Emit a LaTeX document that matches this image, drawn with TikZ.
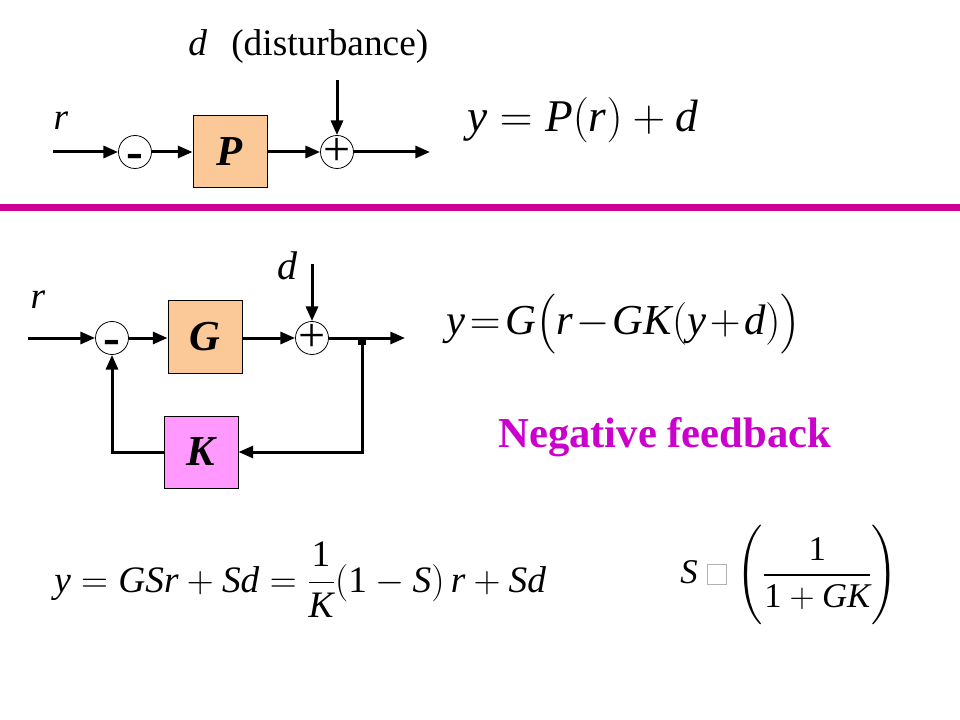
\RequirePackage{fix-cm}
\documentclass[tikz,border=0pt]{standalone}
\usepackage{amsmath}
\usepackage{fontspec}
\setmainfont{Liberation Serif}
\usepackage{tikz}
\usetikzlibrary{arrows.meta}
\definecolor{PEACH}{HTML}{FBC997}
\definecolor{VIOLET}{HTML}{FF99FF}
\definecolor{MAGENTA}{HTML}{CC0099}
\definecolor{PURPLE}{HTML}{CC00CC}
\definecolor{BLACK}{HTML}{000000}
\newcommand{\fs}[1]{\fontsize{#1}{#1}\selectfont}
\newcommand{\iv}[1]{\textit{#1}}

\begin{document}
\begin{tikzpicture}[x=0.75pt, y=-0.75pt,
    block/.style={draw=BLACK, line width=0.75pt, minimum width=55.5pt, minimum height=54pt, inner sep=0pt, font=\fs{32}\bfseries\itshape},
    sumpt/.style={circle, draw=BLACK, line width=0.6pt, minimum size=24.75pt, inner sep=0pt},
    plus/.style={inner sep=0pt, font=\fs{36}},
    minus/.style={inner sep=0pt, font=\fs{38}\bfseries},
    junc/.style={fill=BLACK, minimum size=6pt, inner sep=0pt},
    sig/.style={BLACK, line width=2.25pt, -{Triangle[length=11pt, width=9pt]}},
    lbl/.style={inner sep=0pt, font=\fs{28}},
    tight/.style={execute at begin node={\thickmuskip=2mu\medmuskip=1.5mu}}]
    \fill[white] (0,0) rectangle (960,720);
    \useasboundingbox (0,0) rectangle (960,720);

    % open loop
    \node[sumpt] (s1) at (135,152) {};
    \node[minus] (m1) at (135,161) {-};
    \node[block, fill=PEACH] (P) at (230,152) {P};
    \node[sumpt] (a1) at (337,152) {};
    \node[plus] (p1) at (a1) {+};
    \coordinate (r1) at (53,152);
    \coordinate (y1) at (430,152);
    \coordinate (d1) at (337,80);
    \draw[sig] (r1) -- (s1);
    \draw[sig] (s1) -- (P);
    \draw[sig] (P) -- (a1);
    \draw[sig] (a1) -- (y1);
    \draw[sig] (d1) -- (a1);
    \node[lbl] (rl1) at (61,121) {\iv{r}};
    \node[lbl, anchor=west] (dl1) at (188,47) {\iv{d}\hspace{0.65em}(disturbance)};
    \node[lbl, anchor=west, font=\fs{34}] (eq1) at (467,120) {$\iv{y}=\iv{P}(\iv{r})+\iv{d}$};

    \draw[MAGENTA, line width=5.25pt] (0,207.5) -- (960,207.5);

    % closed loop
    \node[sumpt] (s2) at (112,338) {};
    \node[minus] (m2) at (112,347) {-};
    \node[block, fill=PEACH] (G) at (205,337) {G};
    \node[sumpt] (a2) at (312,338) {};
    \node[plus] (p2) at (a2) {+};
    \node[junc] (br) at (362,341) {};
    \node[block, fill=VIOLET] (K) at (201,452) {K};
    \coordinate (r2) at (28,338);
    \coordinate (y2) at (405,338);
    \coordinate (d2) at (312,264);
    \draw[sig] (r2) -- (s2);
    \draw[sig] (s2) -- (G.west |- s2);
    \draw[sig] (G.east |- a2) -- (a2);
    \draw[sig] (a2) -- (y2);
    \draw[sig] (d2) -- (a2);
    \draw[sig] (br) |- (K);
    \draw[sig] (K) -| (s2);
    \node[lbl] (rl2) at (38,300) {\iv{r}};
    \node[lbl, font=\fs{30}] (dl2) at (288,266) {\iv{d}};
    \node[lbl, tight, anchor=west, font=\fs{32}] (eq2) at (446,324) {$\iv{y}=\iv{G}\bigl(\iv{r}-\iv{GK}(\iv{y}+\iv{d})\bigr)$};
    \node[lbl, anchor=west, font=\fs{32}\bfseries, text=PURPLE] (neg) at (498,437) {Negative feedback};

    % sensitivity
    \node[lbl, anchor=west] (eq3) at (54,580) {$\iv{y}=\iv{GSr}+\iv{Sd}=\dfrac{\text{1}}{\iv{K}}(\text{1}-\iv{S})\,\iv{r}+\iv{Sd}$};
    \node[lbl, anchor=west, font=\fs{26}] (eq4) at (680,575) {$\iv{S}\;{\setlength\fboxrule{0.4pt}\setlength\fboxsep{0pt}\fcolorbox{gray!60}{white}{\rule{0pt}{14pt}\hspace{14pt}}}\;\Biggl(\dfrac{\text{1}}{\text{1}+\iv{GK}}\Biggr)$};
\end{tikzpicture}
\end{document}
